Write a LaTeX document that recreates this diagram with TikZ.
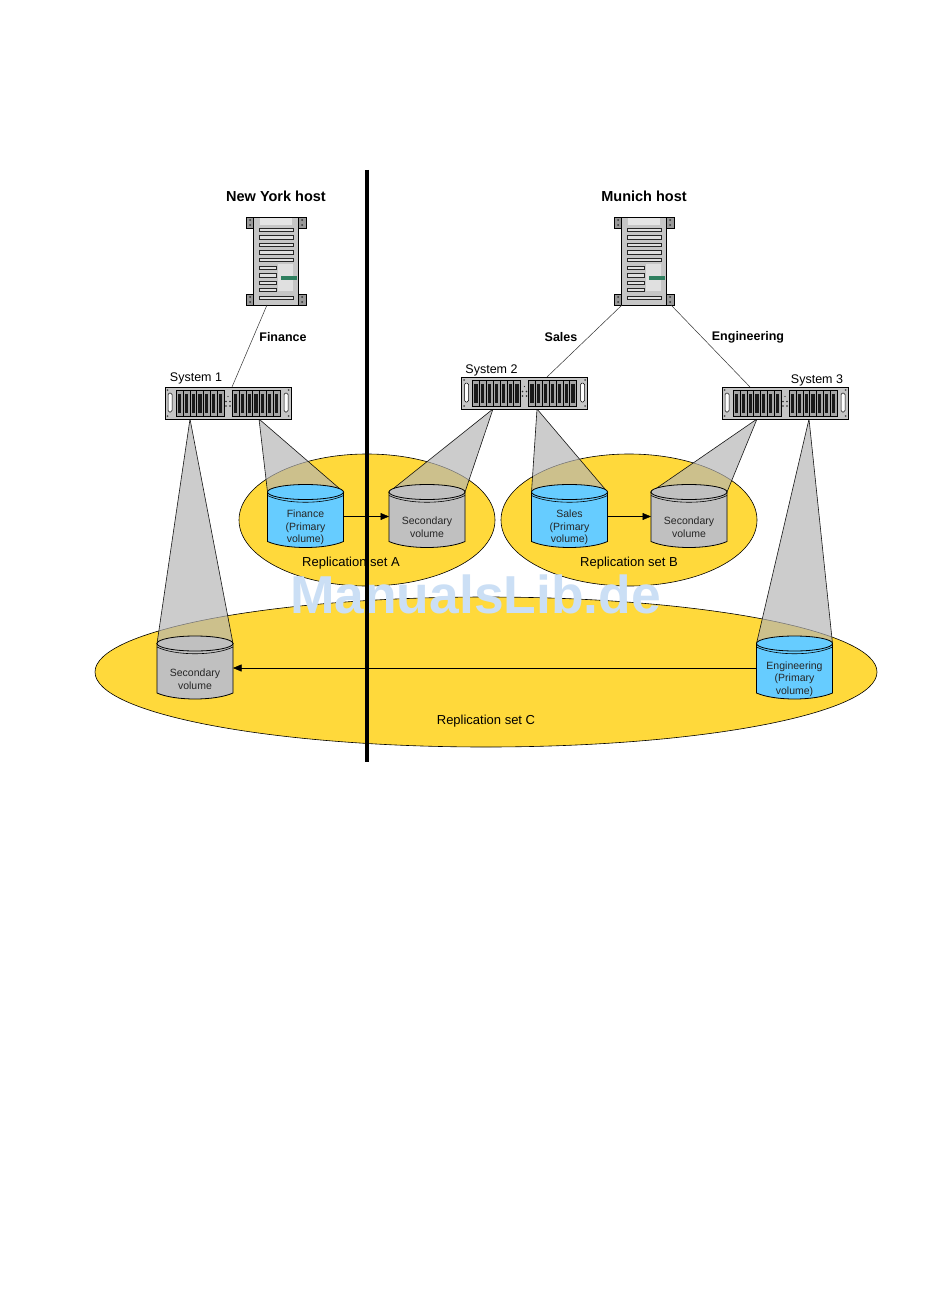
\documentclass[tikz,border=0pt]{standalone}
\usepackage{fontspec}
\setmainfont{Liberation Sans}
\usetikzlibrary{arrows.meta,calc}
\definecolor{setyellow}{HTML}{FFD93B}
\definecolor{volblue}{HTML}{66CCFF}
\definecolor{volgrey}{HTML}{C0C0C0}
\definecolor{beamgrey}{HTML}{B4B4B4}
\definecolor{rackgrey}{HTML}{C6C6C6}
\definecolor{markblue}{HTML}{CBDFF5}
\definecolor{ledgreen}{HTML}{2F7F5F}
\pgfdeclarelayer{ovals}
\pgfdeclarelayer{beams}
\pgfsetlayers{ovals,beams,main}
\tikzset{
  setoval/.style={draw=black,line width=.6pt,fill=setyellow},
  beam/.style={draw=black,line width=.6pt,fill=beamgrey,fill opacity=.67,draw opacity=.9},
  link/.style={draw=black!80,line width=.5pt},
  flow/.style={draw=black,line width=.5pt,-{Triangle[length=8.5pt,width=7pt]}},
  hostlabel/.style={font=\fontsize{14.5}{17}\selectfont\bfseries},
  linklabel/.style={font=\fontsize{12.5}{15}\selectfont\bfseries},
  syslabel/.style={font=\fontsize{12.5}{15}\selectfont},
  setlabel/.style={font=\fontsize{13}{15}\selectfont},
  voltext/.style={font=\fontsize{10.5}{12.7}\selectfont,align=center,text=black!85,inner sep=0pt},
  slotbar/.style={draw=black!85,line width=.8pt,fill=black!12},
  pics/hostbox/.style={code={
    \foreach \sx in {-1,1}{\foreach \ey in {-44,33}{
      \path[draw=black,line width=.5pt,fill=black!40] ({\sx*22},\ey) rectangle ({\sx*30},{\ey+11});
      \fill[black!80] ({\sx*26},{\ey+3}) circle (1pt) ({\sx*26},{\ey+8}) circle (1pt);}}
    \node[draw=black,line width=.6pt,fill=rackgrey,minimum width=45pt,minimum height=88pt,inner sep=0pt,outer sep=0pt] (-body) at (0,0) {};
    \fill[black!10] (-16,-43) rectangle (16,-36);
    \fill[black!12] (2,3) rectangle (17,30);
    \foreach \sy in {-33,-25.5,-18,-10.5,-3,35}{\path[slotbar] (-17,\sy) rectangle (17,{\sy+3.5});}
    \foreach \sy in {5,12.5,20,27}{\path[slotbar] (-17,\sy) rectangle (0,{\sy+3.5});}
    \fill[ledgreen] (5,15) rectangle (21,19);}},
  pics/rackbox/.style={code={
    \node[draw=black,line width=.6pt,fill=rackgrey,minimum width=126pt,minimum height=32pt,inner sep=0pt,outer sep=0pt] (-body) at (0,0) {};
    \foreach \bx in {-52,4}{\foreach \i in {0,...,6}{
      \path[draw=black,line width=.4pt,fill=black!35] ({\bx+\i*6.86},-13) rectangle ({\bx+(\i+1)*6.86},13);
      \fill[black!90] ({\bx+1.8+\i*6.86},-9.5) rectangle ({\bx+5+\i*6.86},9.5);}}
    \foreach \sx in {-1,1}{
      \path[draw=black,line width=.5pt,fill=white,rounded corners=1.5pt] ({\sx*56},-10) rectangle ({\sx*60},9);
      \foreach \sy in {-13,13}{\fill[black!70] ({\sx*60.5},\sy) circle (1pt);}
      \fill[black!85] ({\sx*2},-1.5) circle (.9pt) ({\sx*2},3) circle (.9pt);}
    \fill[black!85] (0,-6.5) circle (.7pt);}},
  pics/volume/.style n args={2}{code={
    \node[minimum width=76pt,minimum height=62pt,inner sep=0pt,outer sep=0pt] (-body) at (0,0) {};
    \path[draw=black,line width=.8pt,fill=#1] (-38,-24.5) -- (-38,25) .. controls (-20,33) and (20,33) .. (38,25) -- (38,-24.5) -- cycle;
    \path[draw=black,line width=.8pt,fill=#1] (0,-24.5) ellipse [x radius=38,y radius=7.5];
    \path[draw=black,line width=.6pt] (-38,-21) .. controls (-20,-12) and (20,-12) .. (38,-21);
    \node[voltext] (-label) at (0,11) {#2};
    \coordinate (-tl) at (-38,-24.5);
    \coordinate (-tr) at (38,-24.5);}}
}
\begin{document}
\begin{tikzpicture}[x=1pt,y=-1pt]
\begin{pgfonlayer}{ovals}
\useasboundingbox[fill=white] (0,0) rectangle (950,1292);
\path[setoval] (367,520) ellipse [x radius=128,y radius=66];
\path[setoval] (629,520) ellipse [x radius=128,y radius=66];
\path[setoval] (486,672) ellipse [x radius=391,y radius=75];
\end{pgfonlayer}
\pic (nyhost) at (276,261) {hostbox};
\pic (muhost) at (644,261) {hostbox};
\pic (sysone) at (228,403) {rackbox};
\pic (systwo) at (524.5,393) {rackbox};
\pic (systhree) at (785,403) {rackbox};
\pic (finvol) at (305.5,516.5) {volume={volblue}{Finance\\(Primary\\volume)}};
\pic (secvola) at (427,516.5) {volume={volgrey}{Secondary\\volume}};
\pic (salesvol) at (569.5,516.5) {volume={volblue}{Sales\\(Primary\\volume)}};
\pic (secvolb) at (689,516.5) {volume={volgrey}{Secondary\\volume}};
\pic (secvolc) at (195,668) {volume={volgrey}{Secondary\\volume}};
\pic (engvol) at (794.5,668) {volume={volblue}{Engineering\\(Primary\\volume)}};
\begin{pgfonlayer}{beams}
\path[beam] ($(sysone-body.south)+(31,0)$) -- (finvol-tl) -- (finvol-tr) -- cycle;
\path[beam] ($(systwo-body.south)+(-31.5,0)$) -- (secvola-tl) -- (secvola-tr) -- cycle;
\path[beam] ($(systwo-body.south)+(12.5,0)$) -- (salesvol-tl) -- (salesvol-tr) -- cycle;
\path[beam] ($(systhree-body.south)+(-28,0)$) -- (secvolb-tl) -- (secvolb-tr) -- cycle;
\path[beam] ($(sysone-body.south)+(-38,0)$) -- (secvolc-tl) -- (secvolc-tr) -- cycle;
\path[beam] ($(systhree-body.south)+(24,0)$) -- (engvol-tl) -- (engvol-tr) -- cycle;
\end{pgfonlayer}
\draw[flow] (finvol-body.east) -- (secvola-body.west);
\draw[flow] (salesvol-body.east) -- (secvolb-body.west);
\draw[flow] (engvol-body.west) -- (secvolc-body.east);
\draw[link] ($(nyhost-body.south)+(-9,0)$) -- ($(sysone-body.north)+(4,0)$);
\draw[link] ($(muhost-body.south)+(-22,0)$) -- ($(systwo-body.north)+(22.5,0)$);
\draw[link] ($(muhost-body.south)+(27,0)$) -- ($(systhree-body.north)+(-35,0)$);
\node[hostlabel] (nylabel) at (276,196.5) {New York host};
\node[hostlabel] (mulabel) at (644,196.5) {Munich host};
\node[linklabel] (finlabel) at (283,337.5) {Finance};
\node[linklabel] (saleslabel) at (561,337.5) {Sales};
\node[linklabel] (englabel) at (748,337.5) {Engineering};
\node[syslabel] (onelabel) at (196,378) {System 1};
\node[syslabel] (twolabel) at (491.5,370) {System 2};
\node[syslabel] (threelabel) at (817,380) {System 3};
\node[setlabel] (setalabel) at (351,563) {Replication set A};
\node[setlabel] (setblabel) at (629,563) {Replication set B};
\node[setlabel] (setclabel) at (486,721) {Replication set C};
\node[font=\fontsize{53.4}{60}\selectfont\bfseries,text=markblue] (marklabel) at (475.5,594) {ManualsLib.de};
\coordinate (dividertop) at (367,170);
\coordinate (dividerend) at (367,762);
\draw[line width=4pt] (dividertop) -- (dividerend);
\end{tikzpicture}
\end{document}
